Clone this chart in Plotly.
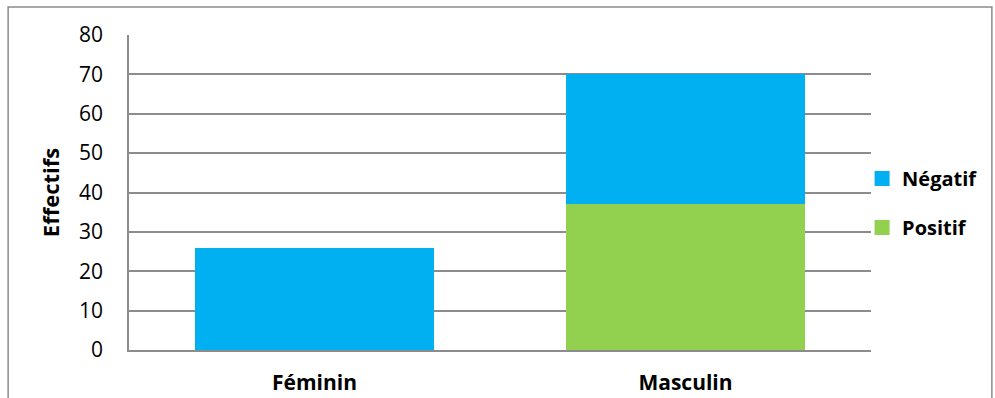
import plotly.graph_objects as go

# Effectifs par sexe et par résultat
categories = ["Féminin", "Masculin"]
positif = [0, 37]
negatif = [26, 33]
y_ticks = [0, 10, 20, 30, 40, 50, 60, 70, 80]

colors = {"Négatif": "#00B0F0", "Positif": "#92D050"}

W, H = 995, 398
L, R, T, B = 129, 117, 35, 48
pw, ph = W - L - R, H - T - B
FONT = "Open Sans, Lato, sans-serif"

fig = go.Figure()
fig.add_trace(go.Bar(x=categories, y=positif, name="Positif",
                     marker=dict(color=colors["Positif"], line=dict(width=0)),
                     showlegend=False))
fig.add_trace(go.Bar(x=categories, y=negatif, name="Négatif",
                     marker=dict(color=colors["Négatif"], line=dict(width=0)),
                     showlegend=False))

# legend keys with larger square swatches
for i, name in enumerate(["Négatif", "Positif"]):
    fig.add_trace(go.Scatter(x=[None], y=[None], mode="markers", name=name,
                             marker=dict(symbol="square", size=15,
                                         color=colors[name]),
                             legendgroup=f"g{i}", showlegend=True))

grid = "#8c8c8c"
fig.update_layout(
    barmode="stack",
    bargap=0.356,
    width=W, height=H,
    margin=dict(l=L, r=R, t=T, b=B, pad=0),
    paper_bgcolor="white", plot_bgcolor="white",
    font=dict(family=FONT, color="black"),
    showlegend=True,
    legend=dict(
        x=(869 - L) / pw, xanchor="left",
        y=(350 - 203) / ph, yanchor="middle",
        traceorder="grouped", tracegroupgap=20,
        font=dict(size=20, family=FONT, weight="bold"),
        itemwidth=30, bgcolor="rgba(0,0,0,0)",
    ),
    xaxis=dict(
        showgrid=False, showline=True, linecolor=grid, linewidth=1.5,
        ticks="", tickfont=dict(size=21, weight="bold"),
        ticklabelstandoff=13, automargin=False,
    ),
    yaxis=dict(
        range=[0, 80], tickvals=y_ticks, showgrid=True, gridcolor=grid,
        gridwidth=1.5, showline=True, linecolor=grid, linewidth=1.5,
        zeroline=False, ticks="", tickfont=dict(size=21),
        ticklabelstandoff=20, automargin=False,
        title=dict(text="Effectifs", font=dict(size=22, weight="bold"),
                   standoff=13),
    ),
    shapes=[dict(type="rect", xref="paper", yref="paper",
                 x0=(7 - L) / pw, x1=(1000 - L) / pw,
                 y0=(H - 410 - B) / ph, y1=(H - 7 - B) / ph,
                 line=dict(color=grid, width=1.5), layer="below")],
)

fig.write_html("out.html")
